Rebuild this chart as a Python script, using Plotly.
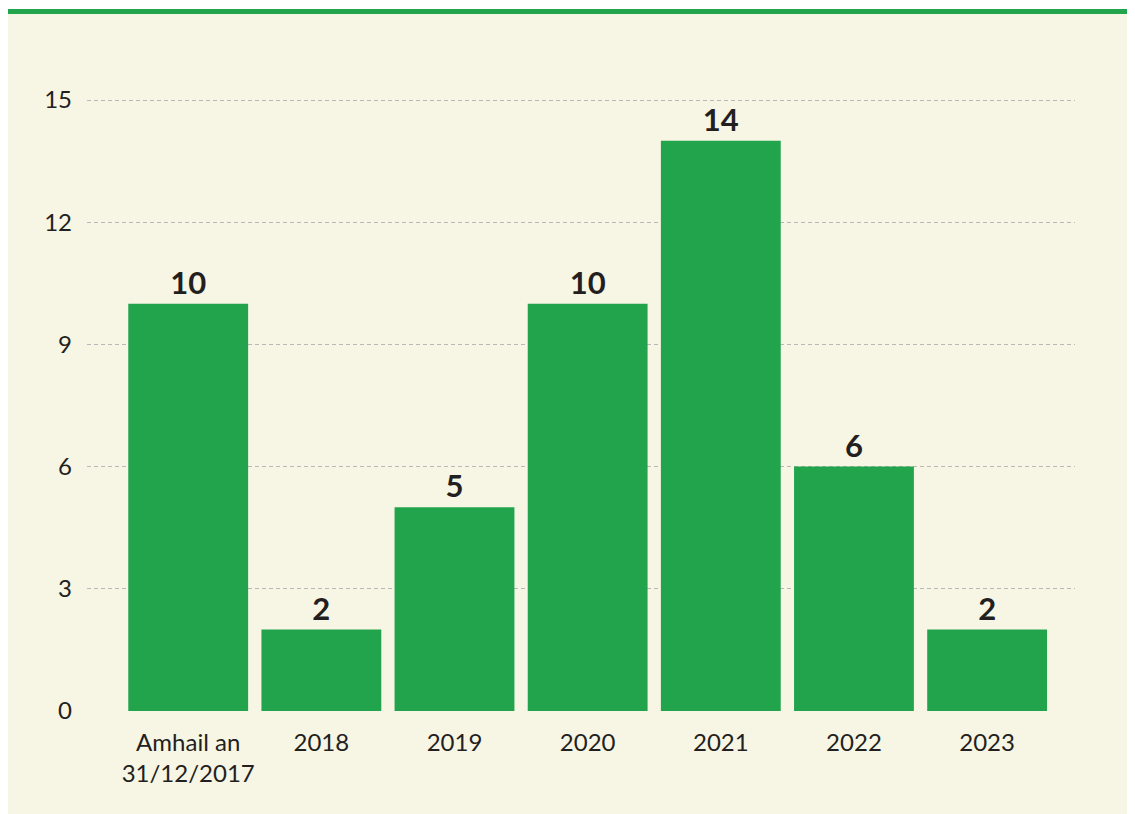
import plotly.graph_objects as go

categories = ["Amhail an<br>31/12/2017", "2018", "2019", "2020", "2021", "2022", "2023"]
values = [10, 2, 5, 10, 14, 6, 2]
y_ticks = [0, 3, 6, 9, 12, 15]

# page body has an 8px margin; work in figure-pixel coordinates
W, H = 1135, 814
L, R, T, B = 79, 68, 90, 111
pw, ph = W - L - R, H - T - B

def px_x(x):
    return (x - L) / pw

def px_y(y):
    return (H - B - y) / ph

green = "#22a44c"
cream = "#f7f5e4"

fig = go.Figure(go.Bar(
    x=list(range(len(categories))),
    y=values,
    marker=dict(color=green, line=dict(width=0)),
    text=[str(v) for v in values],
    textposition="outside",
    textfont=dict(family="Lato", size=31, color="#231f20", weight=700),
    cliponaxis=False,
    width=0.9,
))

fig.update_layout(
    width=W, height=H,
    margin=dict(l=L, r=R, t=T, b=B, pad=0),
    paper_bgcolor="white",
    plot_bgcolor="rgba(0,0,0,0)",
    showlegend=False,
    font=dict(family="Lato", size=24, color="#231f20"),
    shapes=[
        dict(type="rect", xref="paper", yref="paper",
             x0=px_x(0), x1=px_x(W), y0=px_y(H), y1=px_y(4),
             fillcolor=cream, line=dict(width=0), layer="below"),
        dict(type="rect", xref="paper", yref="paper",
             x0=px_x(0), x1=px_x(W), y0=px_y(6), y1=px_y(1),
             fillcolor=green, line=dict(width=0), layer="below"),
    ],
)

fig.update_xaxes(
    tickmode="array", tickvals=list(range(len(categories))), ticktext=categories,
    range=[-0.76, 6.66], showgrid=False, zeroline=False, showline=False,
    ticks="", ticklabelstandoff=15,
)
fig.update_yaxes(
    range=[0, 15.05], tickmode="array", tickvals=y_ticks,
    showgrid=True, gridcolor="#b8b8b8", gridwidth=1, griddash="4px,3px",
    zeroline=False, showline=False, ticks="", ticklabelstandoff=14,
)

fig.write_html("out.html")
